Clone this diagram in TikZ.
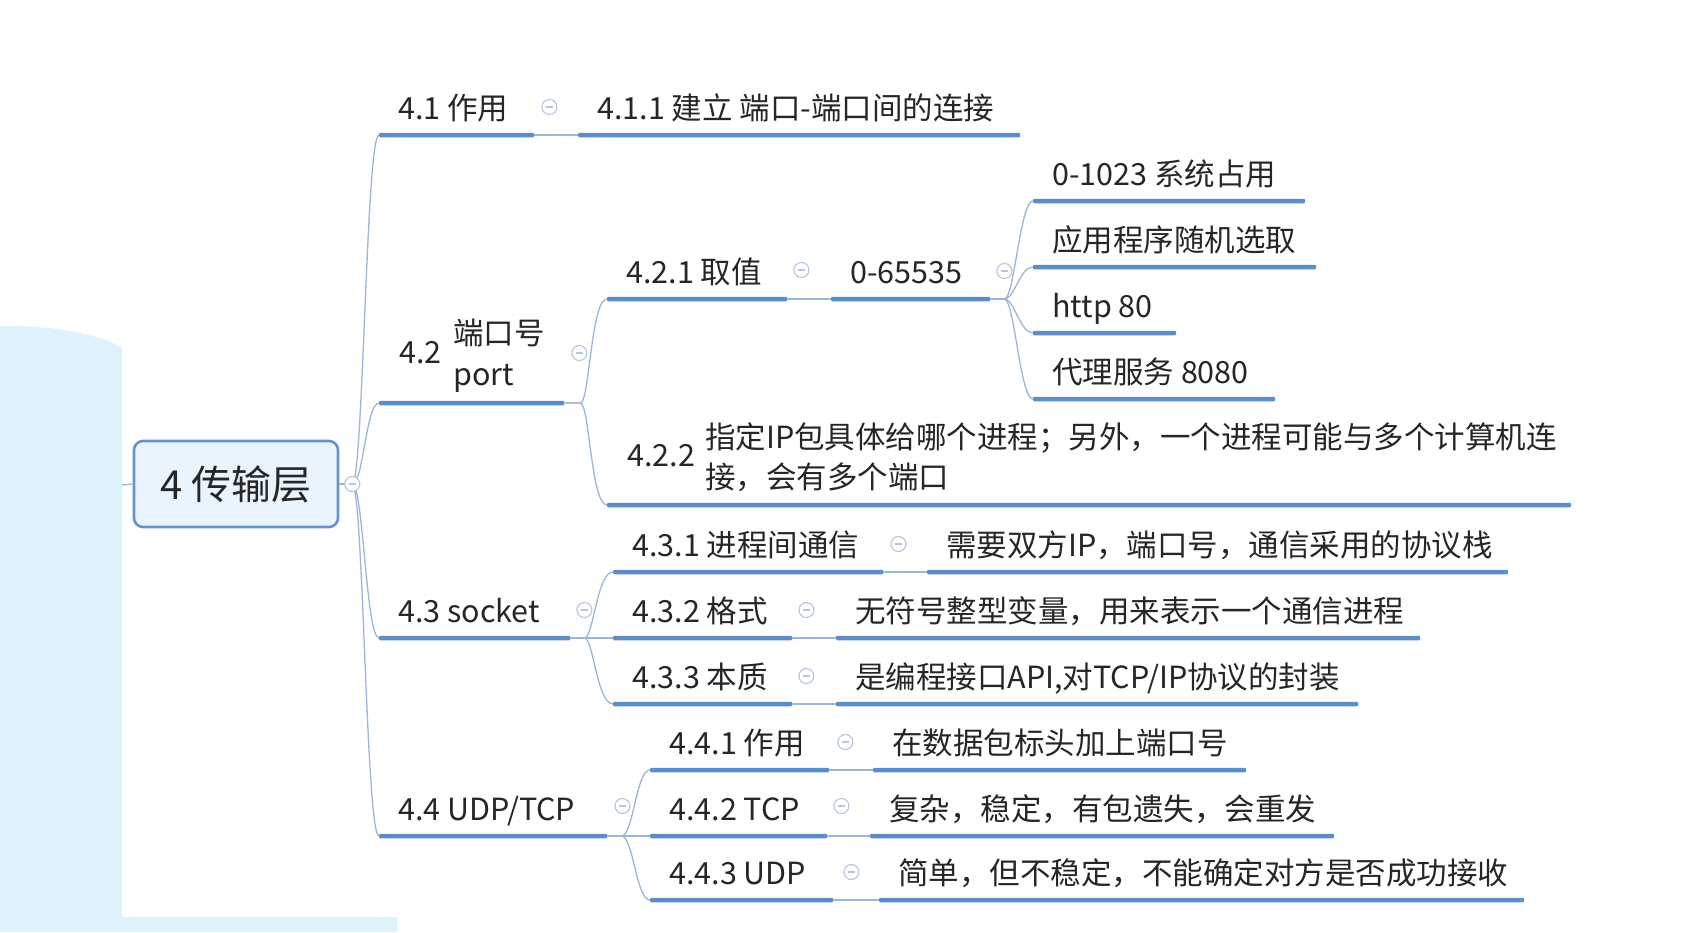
\documentclass[tikz,border=0pt]{standalone}
\usepackage{fontspec}
\setmainfont{Noto Sans CJK SC}
\usetikzlibrary{calc}
\definecolor{ulc}{RGB}{92,141,200}
\definecolor{cnc}{RGB}{158,182,214}
\definecolor{icc}{RGB}{182,196,220}
\definecolor{txtc}{RGB}{38,38,38}
\definecolor{panelc}{RGB}{222,242,252}
\definecolor{rootb}{RGB}{104,146,204}
\definecolor{rootf}{RGB}{234,244,253}
\tikzset{
  bar/.style={anchor=west, inner sep=0pt, minimum height=4.5pt, fill=ulc, rounded corners=1pt},
  tx/.style={anchor=base west, inner sep=0pt, text=txtc, font=\fontsize{30.5}{37}\selectfont},
  conn/.style={draw=cnc, line width=1.3pt},
  icon/.style={circle, draw=icc, fill=white, line width=1.1pt, minimum size=15pt, inner sep=0pt,
    path picture={\draw[icc, line width=1.1pt] ([xshift=-3.5pt]path picture bounding box.center) -- ([xshift=3.5pt]path picture bounding box.center);}},
  rootbox/.style={rectangle, rounded corners=9pt, draw=rootb, line width=2.6pt, fill=rootf,
    minimum width=204pt, minimum height=86pt, inner sep=0pt, text=txtc, font=\fontsize{40}{48}\selectfont},
  brl/.style={out=0, in=180, out distance=11pt, in distance=13pt},
}
\begin{document}
\begin{tikzpicture}[x=1pt,y=-1pt]
\useasboundingbox (0,0) rectangle (1695,932);
\fill[white] (0,0) rectangle (1695,932);
% left light panel
\fill[panelc] (0,326) .. controls (50,325) and (100,334) .. (122,348) -- (122,917) -- (397,917) -- (397,932) -- (0,932) -- cycle;

% root
\node[rootbox] (root) at (236,484) {4 传输层};
\coordinate (rin) at (122,485);

% bars (underlines)
\node[bar, minimum width=155pt] (b41) at (379,135) {};
\node[bar, minimum width=442pt] (b411) at (578,135) {};
\node[bar, minimum width=185pt] (b42) at (379,403) {};
\node[bar, minimum width=180pt] (b421) at (607,299) {};
\node[bar, minimum width=159pt] (b4211) at (831,299) {};
\node[bar, minimum width=272pt] (ba) at (1033,201) {};
\node[bar, minimum width=283pt] (bb) at (1033,267) {};
\node[bar, minimum width=143pt] (bc) at (1033,333) {};
\node[bar, minimum width=242pt] (bd) at (1033,399) {};
\node[bar, minimum width=964pt] (b422) at (607,505) {};
\node[bar, minimum width=191pt] (b43) at (379,638) {};
\node[bar, minimum width=270pt] (b431) at (613,572) {};
\node[bar, minimum width=581pt] (b4311) at (927,572) {};
\node[bar, minimum width=179pt] (b432) at (613,638) {};
\node[bar, minimum width=584pt] (b4321) at (836,638) {};
\node[bar, minimum width=179pt] (b433) at (613,704) {};
\node[bar, minimum width=522pt] (b4331) at (836,704) {};
\node[bar, minimum width=228pt] (b44) at (379,836) {};
\node[bar, minimum width=179pt] (b441) at (650,770) {};
\node[bar, minimum width=373pt] (b4411) at (873,770) {};
\node[bar, minimum width=177pt] (b442) at (650,836) {};
\node[bar, minimum width=464pt] (b4421) at (870,836) {};
\node[bar, minimum width=183pt] (b443) at (650,900) {};
\node[bar, minimum width=645pt] (b4431) at (879,900) {};

% texts
\node[tx] (t41) at ($(b41.west)+(19,-16)$) {4.1 作用};
\node[tx] (t411) at ($(b411.west)+(19,-16)$) {4.1.1 建立 端口-端口间的连接};
\node[tx] (t42n) at ($(b42.west)+(20,-40)$) {4.2};
\node[tx] (t42a) at ($(b42.west)+(74,-59)$) {端口号};
\node[tx] (t42b) at ($(b42.west)+(74,-18)$) {port};
\node[tx] (t421) at ($(b421.west)+(19,-16)$) {4.2.1 取值};
\node[tx] (t4211) at ($(b4211.west)+(19,-16)$) {0-65535};
\node[tx] (ta) at ($(ba.west)+(19,-16)$) {0-1023 系统占用};
\node[tx] (tb) at ($(bb.west)+(19,-16)$) {应用程序随机选取};
\node[tx] (tc) at ($(bc.west)+(19,-16)$) {http 80};
\node[tx] (td) at ($(bd.west)+(19,-16)$) {代理服务 8080};
\node[tx] (t422n) at ($(b422.west)+(20,-39)$) {4.2.2};
\node[tx] (t422a) at ($(b422.west)+(98,-57)$) {指定IP包具体给哪个进程；另外，一个进程可能与多个计算机连};
\node[tx] (t422b) at ($(b422.west)+(98,-17)$) {接，会有多个端口};
\node[tx] (t43) at ($(b43.west)+(19,-16)$) {4.3 socket};
\node[tx] (t431) at ($(b431.west)+(19,-16)$) {4.3.1 进程间通信};
\node[tx] (t4311) at ($(b4311.west)+(19,-16)$) {需要双方IP，端口号，通信采用的协议栈};
\node[tx] (t432) at ($(b432.west)+(19,-16)$) {4.3.2 格式};
\node[tx] (t4321) at ($(b4321.west)+(19,-16)$) {无符号整型变量，用来表示一个通信进程};
\node[tx] (t433) at ($(b433.west)+(19,-16)$) {4.3.3 本质};
\node[tx] (t4331) at ($(b4331.west)+(19,-16)$) {是编程接口API,对TCP/IP协议的封装};
\node[tx] (t44) at ($(b44.west)+(19,-16)$) {4.4 UDP/TCP};
\node[tx] (t441) at ($(b441.west)+(19,-16)$) {4.4.1 作用};
\node[tx] (t4411) at ($(b4411.west)+(19,-16)$) {在数据包标头加上端口号};
\node[tx] (t442) at ($(b442.west)+(19,-16)$) {4.4.2 TCP};
\node[tx] (t4421) at ($(b4421.west)+(19,-16)$) {复杂，稳定，有包遗失，会重发};
\node[tx] (t443) at ($(b443.west)+(19,-16)$) {4.4.3 UDP};
\node[tx] (t4431) at ($(b4431.west)+(19,-16)$) {简单，但不稳定，不能确定对方是否成功接收};

% connectors
\draw[conn] (rin) -- (root.west);
\foreach \c in {b41,b42,b43,b44}
  \draw[conn] (root.east) -- ++(13,0) to[brl] (\c.west);
\draw[conn] (b41.east) -- (b411.west);
\foreach \c in {b421,b422}
  \draw[conn] (b42.east) -- ++(16,0) to[out=0,in=180,out distance=9pt,in distance=16pt] (\c.west);
\draw[conn] (b421.east) -- (b4211.west);
\foreach \c in {ba,bb,bc,bd}
  \draw[conn] (b4211.east) -- ++(14,0) to[out=0,in=180,out distance=10pt,in distance=13pt] (\c.west);
\foreach \c in {b431,b432,b433}
  \draw[conn] (b43.east) -- ++(14,0) to[out=0,in=180,out distance=9pt,in distance=16pt] (\c.west);
\draw[conn] (b431.east) -- (b4311.west);
\draw[conn] (b432.east) -- (b4321.west);
\draw[conn] (b433.east) -- (b4331.west);
\foreach \c in {b441,b442,b443}
  \draw[conn] (b44.east) -- ++(14,0) to[out=0,in=180,out distance=12pt,in distance=14pt] (\c.west);
\draw[conn] (b441.east) -- (b4411.west);
\draw[conn] (b442.east) -- (b4421.west);
\draw[conn] (b443.east) -- (b4431.west);

% collapse icons
\node[icon] (iroot) at ($(root.east)+(13,0)$) {};
\node[icon] (i41) at ($(b41.east)+(15,-28)$) {};
\node[icon] (i42) at ($(b42.east)+(15,-50)$) {};
\node[icon] (i421) at ($(b421.east)+(14,-29)$) {};
\node[icon] (i4211) at ($(b4211.east)+(14,-28)$) {};
\node[icon] (i43) at ($(b43.east)+(14,-28)$) {};
\node[icon] (i431) at ($(b431.east)+(15,-28)$) {};
\node[icon] (i432) at ($(b432.east)+(14,-28)$) {};
\node[icon] (i433) at ($(b433.east)+(14,-28)$) {};
\node[icon] (i44) at ($(b44.east)+(15,-30)$) {};
\node[icon] (i441) at ($(b441.east)+(16,-28)$) {};
\node[icon] (i442) at ($(b442.east)+(14,-30)$) {};
\node[icon] (i443) at ($(b443.east)+(18,-28)$) {};
\end{tikzpicture}
\end{document}
